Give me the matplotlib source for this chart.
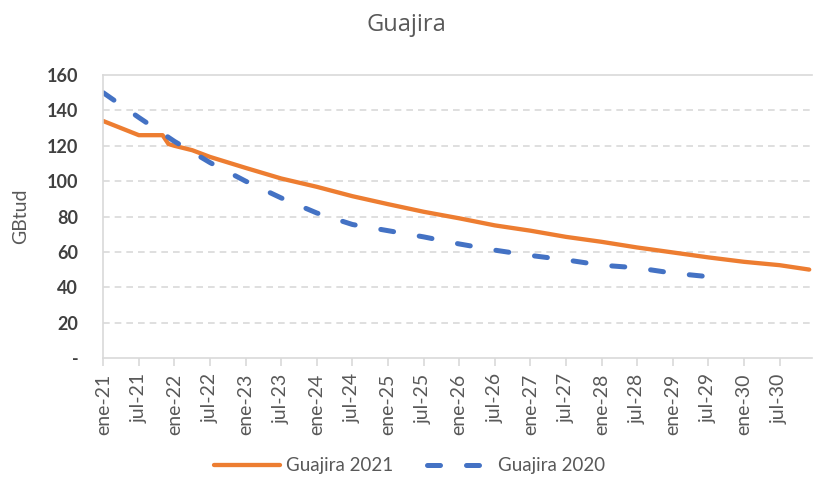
import matplotlib
matplotlib.use('Agg')
import matplotlib.pyplot as plt

# month index from ene-21 (0) to dic-30 (119)
tick_labels = ['ene-21', 'jul-21', 'ene-22', 'jul-22', 'ene-23', 'jul-23', 'ene-24', 'jul-24',
               'ene-25', 'jul-25', 'ene-26', 'jul-26', 'ene-27', 'jul-27', 'ene-28', 'jul-28',
               'ene-29', 'jul-29', 'ene-30', 'jul-30']

# Guajira 2021
m_2021 = [0, 6, 10, 11, 12, 15, 18, 24, 30, 36, 42, 48, 54, 60, 66, 72, 78, 84, 90, 96, 102, 108, 114, 119]
v_2021 = [134, 126, 126, 121, 120, 117.5, 113.7, 107.5, 101.5, 96.8, 91.5, 87, 82.7, 79, 75, 72,
          68.5, 65.7, 62.5, 59.7, 56.9, 54.4, 52.5, 50]

# Guajira 2020
m_2020 = [0, 6, 12, 18, 24, 30, 36, 42, 48, 54, 60, 66, 72, 78, 84, 90, 96, 102, 105]
v_2020 = [150, 136, 122.5, 110.5, 100, 90.5, 82, 75.5, 72, 68.5, 64.5, 61, 58, 55.5, 52.5, 51,
          48, 46, 44]

yticks = [0, 20, 40, 60, 80, 100, 120, 140, 160]
ytick_labels = ['-', '20', '40', '60', '80', '100', '120', '140', '160']

plt.rcParams['font.family'] = ['Lato', 'DejaVu Sans']
txt = '#595959'
grid = '#d9d9d9'

fig = plt.figure(figsize=(8.13, 4.78), dpi=100)
ax = fig.add_axes([0.127, 0.251, 0.872, 0.592])

ax.plot(m_2021, v_2021, color='#ED7D31', lw=3.1, solid_capstyle='round', label='Guajira 2021')
ax.plot(m_2020, v_2020, color='#4472C4', lw=3.6, dashes=(2.6, 5.2), dash_capstyle='round',
        label='Guajira 2020')

ax.set_xlim(0, 119.5)
ax.set_ylim(0, 160)
ax.set_yticks(yticks)
ax.set_yticklabels(ytick_labels, fontsize=13, color='#404040', fontweight='bold')
ax.set_xticks(range(0, 120, 6))
ax.set_xticklabels(tick_labels, rotation=90, fontsize=14, color=txt)
ax.tick_params(axis='y', length=0, pad=18)
ax.tick_params(axis='x', length=6, color=grid, width=1.2, pad=5)

for y in yticks[1:-1]:
    ax.axhline(y, color=grid, lw=1.2, dashes=(4, 3), zorder=0)

ax.spines['right'].set_visible(False)
for s in ['top', 'left', 'bottom']:
    ax.spines[s].set_color(grid)
    ax.spines[s].set_linewidth(1.2)

ax.set_ylabel('GBtud', fontsize=14, color=txt)
ax.yaxis.set_label_coords(-0.104, 0.5)
fig.text(0.5, 0.947, 'Guajira', ha='center', va='center', fontsize=17, color=txt,
         family='Open Sans')

fig.legend(loc='center', bbox_to_anchor=(0.504, 0.026), ncol=2, frameon=False, fontsize=13.5,
           labelcolor=txt, handlelength=3.5, columnspacing=1.8, handletextpad=0.3)

fig.savefig('out.png', dpi=100)
